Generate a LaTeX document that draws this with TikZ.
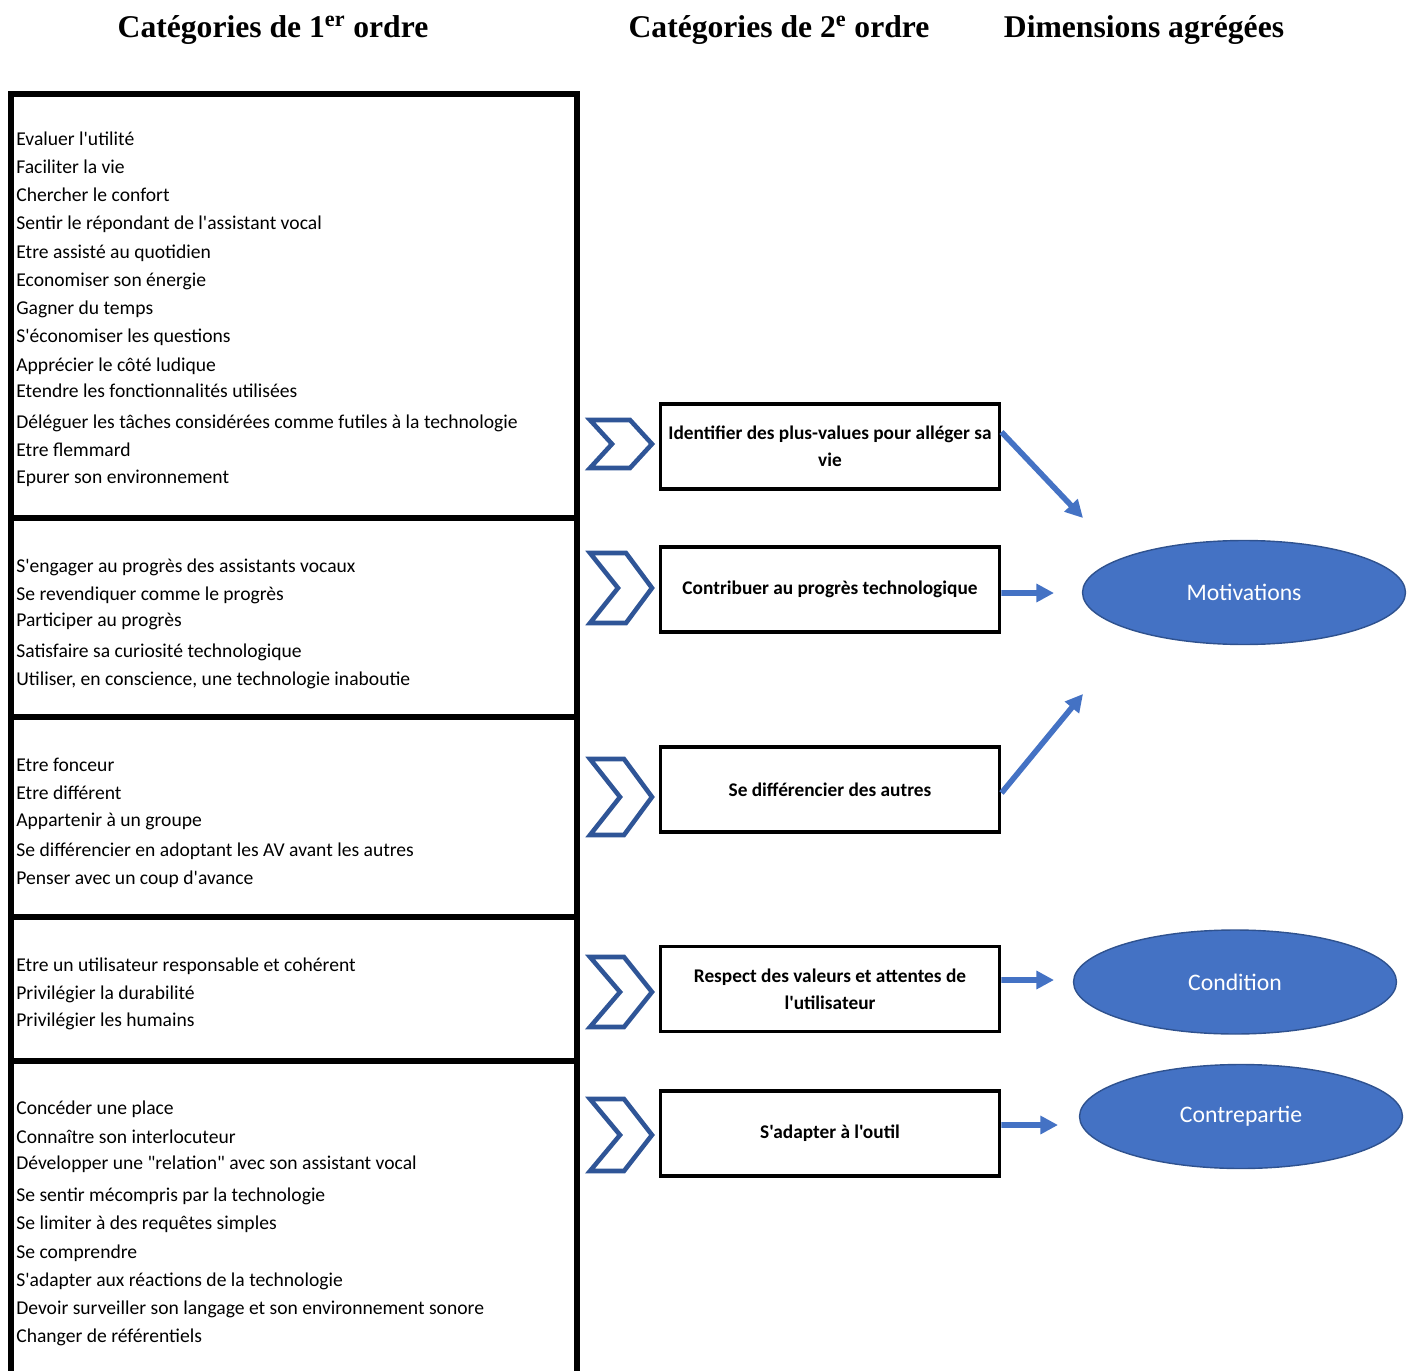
\documentclass[tikz,border=0pt]{standalone}
\usepackage{fontspec}
\setmainfont{Carlito}[Ligatures=TeXOff]
\newfontfamily\titlefont{Liberation Serif}
\usetikzlibrary{shapes.geometric,arrows.meta}
\definecolor{avblue}{HTML}{4472C4}
\definecolor{chevblue}{HTML}{2F5597}
\definecolor{ellborder}{HTML}{2F528F}
\begin{document}
\begin{tikzpicture}[x=0.02cm,y=-0.02cm,
        titre/.style={font=\titlefont\bfseries\fontsize{18}{22}\selectfont,anchor=base,inner sep=0},
        cadre/.style={draw=black,line width=3.2pt},
        chev/.style={draw=chevblue,fill=white,line width=2.6pt,line join=miter},
        categ/.style={draw=black,line width=2pt,minimum width=6.79cm,minimum height=1.7cm,
                align=center,inner sep=0,font=\bfseries\fontsize{11}{15.3}\selectfont},
        dim/.style={ellipse,fill=avblue,draw=ellborder,line width=0.8pt,text=white,inner sep=0,
                minimum width=6.46cm,minimum height=2.08cm,font=\fontsize{13.5}{16}\selectfont},
        fleche/.style={draw=avblue,line width=3.2pt,-{Triangle[length=10pt,width=10pt]}}]
        \useasboundingbox (0,0) rectangle (1415,1371);
        \clip (0,0) rectangle (1415,1371);

        % titres des colonnes
        \node[titre] (t1) at (273,38) {Catégories de 1\textsuperscript{er} ordre};
        \node[titre] (t2) at (779,38) {Catégories de 2\textsuperscript{e} ordre};
        \node[titre] (t3) at (1144,38) {Dimensions agrégées};

        % cadres de gauche
        \draw[cadre] (11,94) rectangle (577,518);
        \draw[cadre] (11,518) rectangle (577,717);
        \draw[cadre] (11,717) rectangle (577,917);
        \draw[cadre] (11,917) rectangle (577,1061);
        \draw[cadre] (11,1061) rectangle (577,1420);

        \begin{scope}[every node/.style={anchor=base west,inner sep=0,font=\fontsize{11.15}{13}\selectfont}]
        \node (a1) at (16,146) {Evaluer l'utilité};
        \node (a2) at (16,174) {Faciliter la vie};
        \node (a3) at (16,202) {Chercher le confort};
        \node (a4) at (16,230) {Sentir le répondant de l'assistant vocal};
        \node (a5) at (16,259) {Etre assisté au quotidien};
        \node (a6) at (16,287) {Economiser son énergie};
        \node (a7) at (16,315) {Gagner du temps};
        \node (a8) at (16,343) {S'économiser les questions};
        \node (a9) at (16,372) {Apprécier le côté ludique};
        \node (a10) at (16,398) {Etendre les fonctionnalités utilisées};
        \node (a11) at (16,428) {Déléguer les tâches considérées comme futiles à la technologie};
        \node (a12) at (16,456) {Etre flemmard};
        \node (a13) at (16,483) {Epurer son environnement};

        \node (b1) at (16,572) {S'engager au progrès des assistants vocaux};
        \node (b2) at (16,600) {Se revendiquer comme le progrès};
        \node (b3) at (16,626) {Participer au progrès};
        \node (b4) at (16,657) {Satisfaire sa curiosité technologique};
        \node (b5) at (16,685) {Utiliser, en conscience, une technologie inaboutie};

        \node (c1) at (16,771) {Etre fonceur};
        \node (c2) at (16,799) {Etre différent};
        \node (c3) at (16,826) {Appartenir à un groupe};
        \node (c4) at (16,856) {Se différencier en adoptant les AV avant les autres};
        \node (c5) at (16,884) {Penser avec un coup d'avance};

        \node (d1) at (16,971) {Etre un utilisateur responsable et cohérent};
        \node (d2) at (16,999) {Privilégier la durabilité};
        \node (d3) at (16,1026) {Privilégier les humains};

        \node (e1) at (16,1114) {Concéder une place};
        \node (e2) at (16,1143) {Connaître son interlocuteur};
        \node (e3) at (16,1169) {Développer une "relation" avec son assistant vocal};
        \node (e4) at (16,1201) {Se sentir mécompris par la technologie};
        \node (e5) at (16,1229) {Se limiter à des requêtes simples};
        \node (e6) at (16,1258) {Se comprendre};
        \node (e7) at (16,1286) {S'adapter aux réactions de la technologie};
        \node (e8) at (16,1314) {Devoir surveiller son langage et son environnement sonore};
        \node (e9) at (16,1342) {Changer de référentiels};
        \end{scope}

        % chevrons
        \draw[chev] (590,420) -- (630,420) -- (652,444) -- (630,468) -- (590,468) -- (612,444) -- cycle;
        \draw[chev] (590,553) -- (626,553) -- (652,588) -- (626,623) -- (590,623) -- (618,588) -- cycle;
        \draw[chev] (590,759) -- (624,759) -- (652,797) -- (624,835) -- (590,835) -- (620,797) -- cycle;
        \draw[chev] (590,957) -- (624,957) -- (652,992) -- (624,1027) -- (590,1027) -- (620,992) -- cycle;
        \draw[chev] (590,1099) -- (624,1099) -- (652,1135) -- (624,1171) -- (590,1171) -- (620,1135) -- cycle;

        % categories de 2e ordre
        \node[categ] (s1) at (830,446.5) {Identifier des plus-values pour alléger sa\\vie};
        \node[categ] (s2) at (830,589.5) {Contribuer au progrès technologique};
        \node[categ] (s3) at (830,789.5) {Se différencier des autres};
        \node[categ] (s4) at (830,989) {Respect des valeurs et attentes de\\l'utilisateur};
        \node[categ] (s5) at (830,1133.5) {S'adapter à l'outil};

        % dimensions
        \node[dim] (motiv) at (1244,592.5) {Motivations};
        \node[dim] (cond) at (1235,982) {Condition};
        \node[dim] (contre) at (1241,1116.5) {Contrepartie};

        \coordinate (f1) at (1083,518);
        \coordinate (f2) at (1054,593);
        \coordinate (f3) at (1083,694);
        \coordinate (f4) at (1054,980);
        \coordinate (f5) at (1058,1125);

        \begin{scope}[every edge/.style={fleche}]
        \path ([yshift=0.29cm]s1.east) edge (f1);
        \path ([yshift=-0.07cm]s2.east) edge (f2);
        \path ([yshift=-0.07cm]s3.east) edge (f3);
        \path ([yshift=0.18cm]s4.east) edge (f4);
        \path ([yshift=0.17cm]s5.east) edge (f5);
        \end{scope}
\end{tikzpicture}
\end{document}
